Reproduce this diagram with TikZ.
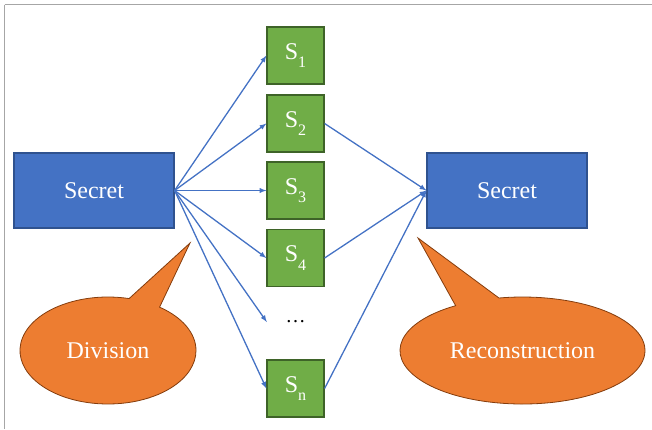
\documentclass[tikz,border=0pt]{standalone}
\usepackage{fontspec}
\setmainfont{Liberation Serif}
\newfontfamily\timesface{Liberation Serif}
\usetikzlibrary{shapes.callouts}

\definecolor{boxblue}{HTML}{4472C4}
\definecolor{boxblueline}{HTML}{2F528F}
\definecolor{sharegreen}{HTML}{70AD47}
\definecolor{sharegreenline}{HTML}{3E6328}
\definecolor{calloutorange}{HTML}{ED7D31}
\definecolor{calloutline}{HTML}{843C0C}
\definecolor{framegray}{HTML}{A6A6A6}

\newcommand{\bigtext}{\timesface\fontsize{24}{28}\selectfont}
\newcommand{\subidx}[1]{\raisebox{-0.35em}{\fontsize{16}{16}\selectfont #1}}

\tikzset{
  secretbox/.style={draw=boxblueline, fill=boxblue, line width=1.2pt,
    minimum width=160pt, minimum height=75pt, inner sep=0pt,
    text=white, font=\bigtext},
  sharebox/.style={draw=sharegreenline, fill=sharegreen, line width=1.2pt,
    minimum width=57pt, minimum height=57pt, inner sep=0pt,
    text=white, font=\bigtext},
  bubble/.style={ellipse callout, draw=calloutline, fill=calloutorange,
    line width=0.8pt, inner sep=0pt, text=white, font=\bigtext,
    callout pointer arc=22},
  link/.style={-latex, draw=boxblue, line width=1.3pt}
}

\begin{document}
\begin{tikzpicture}[x=1pt, y=-1pt]
  \useasboundingbox (0,0) rectangle (652,429);

  % Frame
  \draw[framegray, line width=1.5pt] (4.5,4.5) -- (652,4.5);
  \draw[framegray, line width=1pt] (4.5,4.5) -- (4.5,429);

  % Secrets
  \node[secretbox] (lsecret) at (94,190.5) {Secret};
  \node[secretbox] (rsecret) at (507,190.5) {Secret};

  % Shares
  \node[sharebox] (s1) at (295.5,55.5) {S\subidx{1}};
  \node[sharebox] (s2) at (295.5,123.5) {S\subidx{2}};
  \node[sharebox] (s3) at (295.5,190.5) {S\subidx{3}};
  \node[sharebox] (s4) at (295.5,258) {S\subidx{4}};
  \node[minimum width=57pt, inner sep=0pt, font=\timesface\fontsize{20}{20}\selectfont]
    (dots) at (295.5,322) {\ldots};
  \node[sharebox] (sn) at (295.5,388.5) {S\subidx{n}};

  % Division
  \foreach \s in {s1,s2,s3,s4,dots,sn}
    \draw[link] (lsecret.east) -- (\s.west);

  % Reconstruction
  \foreach \s in {s2,s4,sn}
    \draw[link] (\s.east) -- (rsecret.west);

  % Callouts
  \node[bubble, minimum width=176pt, minimum height=107pt,
    callout absolute pointer={(190,243)}] (division) at (108,350.5) {Division};
  \node[bubble, minimum width=245pt, minimum height=107pt,
    callout absolute pointer={(418,238)}] (reconstruction) at (522.5,350.5)
    {Reconstruction};
\end{tikzpicture}
\end{document}
